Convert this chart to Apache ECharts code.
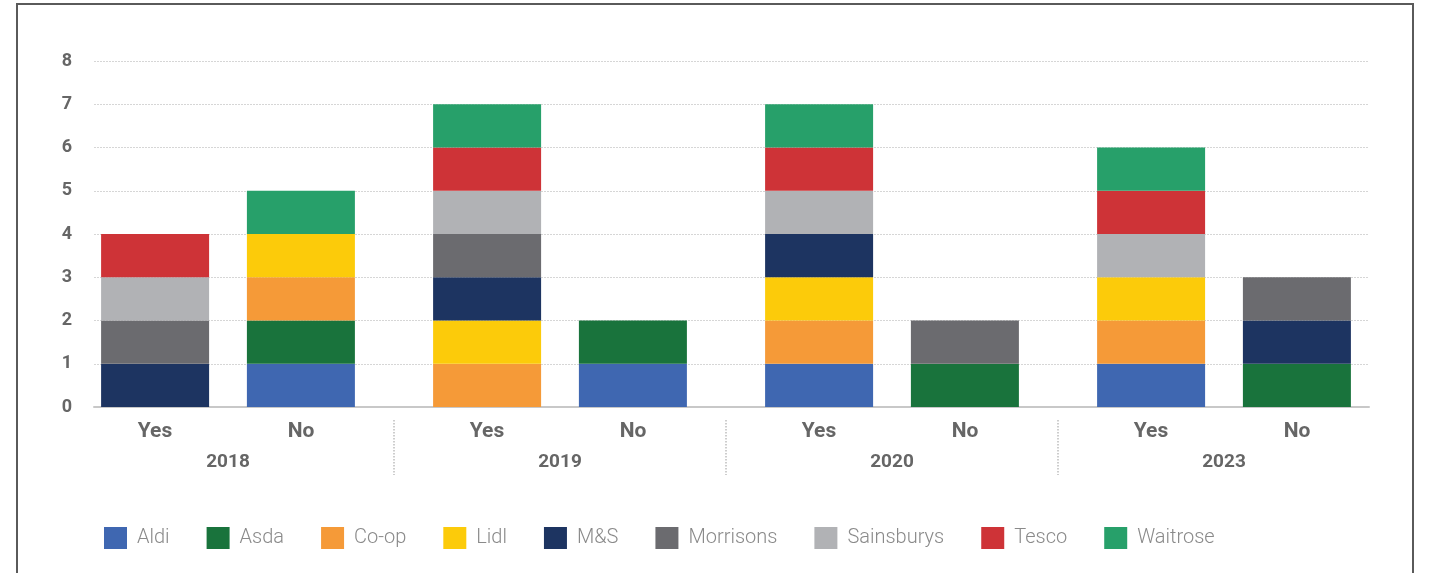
<!DOCTYPE html>
<html>
<head>
<meta charset="utf-8">
<script src="https://cdn.jsdelivr.net/npm/echarts@6/dist/echarts.min.js"></script>
<style>
  html, body { margin: 0; padding: 0; background: #fff; }
  #main { width: 1429px; height: 573px; }
  #frame { position: absolute; left: 16px; top: 3px; width: 1394px; height: 700px;
           border: 2px solid #5a5a5a; pointer-events: none; }
</style>
</head>
<body>
<div id="main"></div>
<div id="frame"></div>
<script>
// bar slots in order: 2018 Yes, 2018 No, 2019 Yes, 2019 No, 2020 Yes, 2020 No, 2023 Yes, 2023 No
var years = ['2018', '2019', '2020', '2023'];
var answers = ['Yes', 'No'];
var yTicks = [0, 8, 1];

var aldi       = [0, 1, 0, 1, 1, 0, 1, 0];
var asda       = [0, 1, 0, 1, 0, 1, 0, 1];
var coop       = [0, 1, 1, 0, 1, 0, 1, 0];
var lidl       = [0, 1, 1, 0, 1, 0, 1, 0];
var ms         = [1, 0, 1, 0, 1, 0, 0, 1];
var morrisons  = [1, 0, 1, 0, 0, 1, 0, 1];
var sainsburys = [1, 0, 1, 0, 1, 0, 1, 0];
var tesco      = [1, 0, 1, 0, 1, 0, 1, 0];
var waitrose   = [0, 1, 1, 0, 1, 0, 1, 0];

var retailers = [
    {name: 'Aldi', color: '#3F67B1', data: aldi},
    {name: 'Asda', color: '#19733C', data: asda},
    {name: 'Co-op', color: '#F59A38', data: coop},
    {name: 'Lidl', color: '#FCCB0A', data: lidl},
    {name: 'M&S', color: '#1D3461', data: ms},
    {name: 'Morrisons', color: '#6B6B6F', data: morrisons},
    {name: 'Sainsburys', color: '#B1B2B5', data: sainsburys},
    {name: 'Tesco', color: '#CE3337', data: tesco},
    {name: 'Waitrose', color: '#27A06A', data: waitrose}
];

var FONT = 'Roboto';

var chartDom = document.getElementById('main');
var myChart = echarts.init(chartDom, null, {renderer: 'canvas'});

// split each retailer into its Yes stack and its No stack
var series = [];
retailers.forEach(function (r) {
    answers.forEach(function (ans, k) {
        var vals = [];
        for (var i = 0; i < years.length; i++) {
            var v = r.data[i * 2 + k];
            vals.push(v === 0 ? '-' : v);
        }
        series.push({
            name: r.name,
            type: 'bar',
            stack: ans,
            xAxisIndex: 1,
            yAxisIndex: 1,
            barWidth: 108,
            barGap: '35%',
            itemStyle: {color: r.color},
            emphasis: {disabled: true},
            data: vals
        });
    });
});

var option = {
    backgroundColor: '#fff',
    animation: false,
    textStyle: {fontFamily: FONT},
    grid: [
        // gridlines + baseline
        {left: 94, right: 60, top: 61, bottom: 166},
        // bars
        {left: 62, right: 39, top: 61, bottom: 166}
    ],
    legend: {
        left: 99,
        top: 522,
        icon: 'rect',
        itemWidth: 23,
        itemHeight: 22,
        itemGap: 37,
        textStyle: {color: '#8a8a8a', fontSize: 20, fontWeight: 300, fontFamily: FONT, padding: [0, 0, 0, 5]}
    },
    xAxis: [
        {
            gridIndex: 0, type: 'value', min: 0, max: 1,
            axisLine: {show: true, onZero: false, lineStyle: {color: '#c8c8c8', width: 2}},
            axisTick: {show: false}, axisLabel: {show: false}, splitLine: {show: false}
        },
        {
            gridIndex: 1, type: 'category', data: years, position: 'bottom',
            axisLine: {show: false}, axisTick: {show: false}, splitLine: {show: false},
            axisLabel: {
                margin: 9,
                formatter: function (v) {
                    return '{a|' + answers[0] + '}{a|' + answers[1] + '}\n{b|' + v + '}';
                },
                rich: {
                    a: {width: 146, align: 'center', fontSize: 21, fontWeight: 'bold', color: '#666', lineHeight: 31, fontFamily: FONT},
                    b: {fontSize: 19, fontWeight: 'bold', color: '#666', lineHeight: 31, fontFamily: FONT}
                }
            }
        },
        {
            // dotted separators between the year groups
            gridIndex: 1, type: 'value', min: 0, max: years.length, position: 'bottom', offset: 13,
            axisLine: {show: false}, axisLabel: {show: false}, splitLine: {show: false},
            axisTick: {show: true, inside: false, length: 55, customValues: [1, 2, 3],
                       lineStyle: {color: '#bdbdbd', width: 1.5, type: [1.5, 1.5]}}
        }
    ],
    yAxis: [
        {
            gridIndex: 0, type: 'value', min: yTicks[0], max: yTicks[1], interval: yTicks[2],
            axisLine: {show: false}, axisTick: {show: false},
            axisLabel: {margin: 22, fontSize: 18, fontWeight: 'bold', color: '#666', fontFamily: FONT},
            splitLine: {show: true, lineStyle: {color: '#d6d6d6', width: 1, type: [2, 1]}}
        },
        {
            gridIndex: 1, type: 'value', min: yTicks[0], max: yTicks[1], interval: yTicks[2],
            show: false, splitLine: {show: false}
        }
    ],
    series: series
};

option && myChart.setOption(option);
</script>
</body>
</html>
